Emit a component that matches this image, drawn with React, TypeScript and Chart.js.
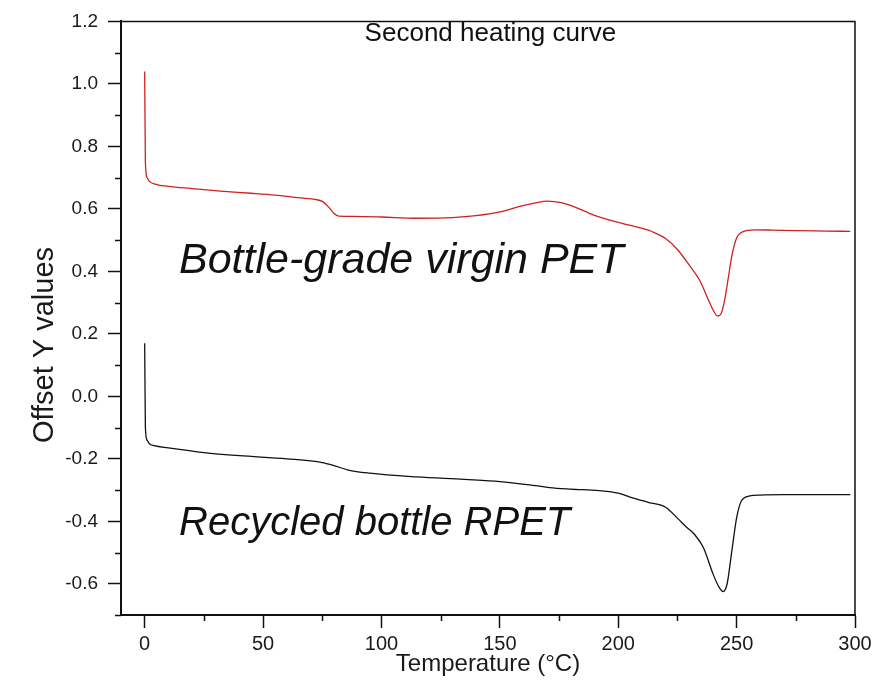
import React, { useEffect, useRef } from "react";
import { Chart, registerables } from "chart.js";

Chart.register(...registerables);

// ---- Data ----
const virginTemps = [
  0, 0.3, 1, 2, 4, 10, 20, 32, 45, 55, 66, 72, 75, 78, 80, 82, 88, 100, 115, 130,
  140, 150, 158, 165, 170, 176, 182, 188, 195, 202, 209, 215, 220, 225, 230, 234.5,
  238, 240.5, 242, 243.5, 245, 246.5, 248, 250, 252, 254, 258, 265, 275, 288, 298,
];
const virginValues = [
  1.04, 0.75, 0.7, 0.688, 0.68, 0.672, 0.665, 0.657, 0.65, 0.644, 0.635, 0.63, 0.624,
  0.603, 0.585, 0.577, 0.576, 0.574, 0.57, 0.572, 0.578, 0.59, 0.607, 0.619, 0.625,
  0.62, 0.605, 0.585, 0.567, 0.553, 0.54, 0.525, 0.505, 0.47, 0.42, 0.37, 0.31, 0.27,
  0.257, 0.265, 0.31, 0.38, 0.45, 0.507, 0.524, 0.53, 0.533, 0.532, 0.53, 0.529, 0.528,
];

const recycledTemps = [
  0, 0.3, 1, 2, 4, 10, 25, 40, 60, 75, 80, 86, 95, 115, 135, 150, 165, 171, 180, 192,
  200, 206, 213, 220, 225, 229, 232, 236, 240, 242.5, 244.3, 246, 248, 250, 252, 255.5,
  260, 270, 285, 298,
];
const recycledValues = [
  0.17, -0.1, -0.14, -0.152, -0.158, -0.165, -0.18, -0.19, -0.2, -0.212, -0.222,
  -0.236, -0.246, -0.258, -0.266, -0.273, -0.286, -0.292, -0.297, -0.302, -0.31,
  -0.325, -0.34, -0.355, -0.39, -0.42, -0.44, -0.485, -0.568, -0.61, -0.625, -0.6,
  -0.494, -0.389, -0.335, -0.319, -0.316, -0.315, -0.315, -0.315,
];

const seriesNames = ["Bottle-grade virgin PET", "Recycled bottle RPET"];
const seriesColors = ["#d02020", "#111111"];
const labelX = [14.5, 14.5];
const labelY = [0.395, -0.445];
const labelSizes = [43, 40];

const plotTitle = "Second heating curve";
const plotTitleX = 146;
const plotTitleY = 1.136;

const xAxisTitle = "Temperature (°C)";
const yAxisTitle = "Offset Y values";

const xMin = -10;
const xMax = 300;
const yMin = -0.7;
const yMax = 1.2;
const xMajorStep = 50;
const yMajorStep = 0.2;
const xMinorTicks = [25, 75, 125, 175, 225, 275];
const yMinorTicks = [-0.7, -0.5, -0.3, -0.1, 0.1, 0.3, 0.5, 0.7, 0.9, 1.1];

const FONT = "'Liberation Sans', Arial, Helvetica, sans-serif";

const decorPlugin = {
  id: "decor",
  afterDatasetsDraw(chart: any) {
    const { ctx, chartArea: a, scales } = chart;
    const x = scales.x;
    const y = scales.y;
    ctx.save();
    // frame: top and right borders
    ctx.strokeStyle = "#111";
    ctx.lineWidth = 1.5;
    ctx.beginPath();
    ctx.moveTo(a.left, a.top);
    ctx.lineTo(a.right, a.top);
    ctx.lineTo(a.right, a.bottom);
    ctx.stroke();
    // minor ticks
    ctx.lineWidth = 1.5;
    ctx.beginPath();
    for (const v of xMinorTicks) {
      const px = Math.round(x.getPixelForValue(v)) + 0.5;
      ctx.moveTo(px, a.bottom);
      ctx.lineTo(px, a.bottom + 6);
    }
    for (const v of yMinorTicks) {
      const py = Math.round(y.getPixelForValue(v)) + 0.5;
      ctx.moveTo(a.left - 6, py);
      ctx.lineTo(a.left, py);
    }
    ctx.stroke();

    // in-plot title
    ctx.fillStyle = "#111";
    ctx.font = `26px ${FONT}`;
    ctx.textAlign = "center";
    ctx.textBaseline = "alphabetic";
    ctx.fillText(plotTitle, x.getPixelForValue(plotTitleX), y.getPixelForValue(plotTitleY));

    // series labels
    ctx.textAlign = "left";
    seriesNames.forEach((name, i) => {
      ctx.font = `italic ${labelSizes[i]}px ${FONT}`;
      ctx.fillText(name, x.getPixelForValue(labelX[i]), y.getPixelForValue(labelY[i]));
    });

    // y axis title
    ctx.translate(45, 345);
    ctx.rotate(-Math.PI / 2);
    ctx.font = `29px ${FONT}`;
    ctx.textAlign = "center";
    ctx.textBaseline = "middle";
    ctx.fillStyle = "#1a1a1a";
    ctx.fillText(yAxisTitle, 0, 0);
    ctx.restore();
  },
};

export default function App() {
  const canvasRef = useRef<HTMLCanvasElement | null>(null);

  useEffect(() => {
    const canvas = canvasRef.current;
    if (!canvas) return;
    const chart = new Chart(canvas, {
      type: "line",
      data: {
        datasets: [
          {
            label: seriesNames[0],
            data: virginTemps.map((t, i) => ({ x: t, y: virginValues[i] })),
            borderColor: seriesColors[0],
            borderWidth: 1.3,
            pointRadius: 0,
            cubicInterpolationMode: "monotone",
            fill: false,
          },
          {
            label: seriesNames[1],
            data: recycledTemps.map((t, i) => ({ x: t, y: recycledValues[i] })),
            borderColor: seriesColors[1],
            borderWidth: 1.3,
            pointRadius: 0,
            cubicInterpolationMode: "monotone",
            fill: false,
          },
        ],
      },
      options: {
        animation: false,
        responsive: false,
        devicePixelRatio: 1,
        layout: { padding: { left: 0, right: 21, top: 20, bottom: 0 } },
        plugins: {
          legend: { display: false },
          tooltip: { enabled: false },
          title: { display: false },
        },
        scales: {
          x: {
            type: "linear",
            min: xMin,
            max: xMax,
            afterFit: (s: any) => {
              s.height = 74;
            },
            ticks: {
              stepSize: xMajorStep,
              includeBounds: false,
              autoSkip: false,
              maxRotation: 0,
              padding: 4,
              color: "#1a1a1a",
              font: { family: FONT, size: 20 },
              callback: (v: any) => String(Math.round(Number(v))),
            },
            grid: {
              display: true,
              drawOnChartArea: false,
              drawTicks: true,
              tickLength: 13,
              tickWidth: 1.5,
              tickColor: "#111",
            },
            border: { display: true, color: "#111", width: 2 },
            title: {
              display: true,
              text: xAxisTitle,
              color: "#1a1a1a",
              font: { family: FONT, size: 24 },
              padding: { top: 0, bottom: 10 },
            },
          },
          y: {
            type: "linear",
            min: yMin,
            max: yMax,
            afterFit: (s: any) => {
              s.width = 121;
            },
            ticks: {
              stepSize: yMajorStep,
              includeBounds: false,
              autoSkip: false,
              padding: 10,
              color: "#1a1a1a",
              font: { family: FONT, size: 19 },
              callback: (v: any) => Number(v).toFixed(1),
            },
            grid: {
              display: true,
              drawOnChartArea: false,
              drawTicks: true,
              tickLength: 13,
              tickWidth: 1.5,
              tickColor: "#111",
            },
            border: { display: true, color: "#111", width: 2 },
            title: { display: false },
          },
        },
      } as any,
      plugins: [decorPlugin],
    });
    return () => chart.destroy();
  }, []);

  return (
    <div style={{ position: "absolute", left: 0, top: 0, width: 876, height: 689, background: "#fff" }}>
      <canvas ref={canvasRef} width={876} height={689} style={{ display: "block" }} />
    </div>
  );
}
